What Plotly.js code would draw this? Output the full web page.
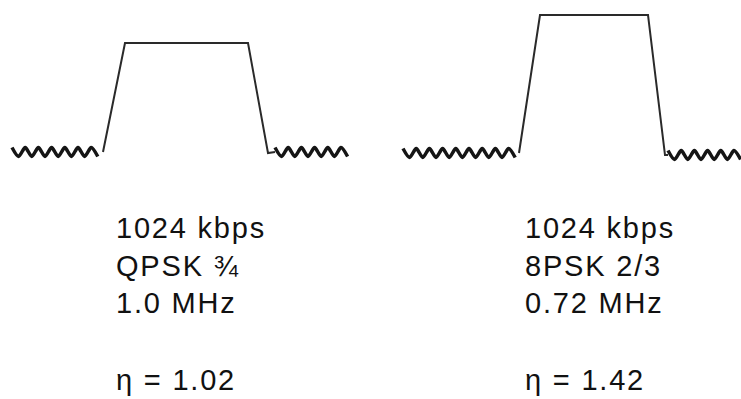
<!DOCTYPE html>
<html>
<head>
<meta charset="utf-8">
<script src="https://cdn.plot.ly/plotly-3.0.1.min.js"></script>
<style>
  html, body { margin: 0; padding: 0; background: #fff; }
  #chart { width: 741px; height: 399px; }
  #chart .annotation-text { letter-spacing: 1.8px; }
</style>
</head>
<body>
<div id="chart"></div>
<script>
// ---- data ----
const rateLabels = ['1024 kbps', '1024 kbps'];
const modLabels  = ['QPSK ¾', '8PSK 2/3'];
const bwLabels   = ['1.0 MHz', '0.72 MHz'];
const etaLabels  = ['η = 1.02', 'η = 1.42'];

// trapezoid (occupied band) outline of each carrier
const band1X = [103, 125, 248, 268, 275];
const band1Y = [152, 43, 43, 153, 152];
const band2X = [519, 540, 648, 665, 668];
const band2Y = [153, 15, 15, 155, 155];

// noise-floor squiggles: start, end, level
const noiseStart = [12, 275, 403, 668];
const noiseEnd   = [103, 350, 519, 745];
const noiseLevel = [152, 152, 153, 155];
const noiseSwing = [-4.5, 4.5];      // up / down excursion of the squiggle
const noiseHalfPeriod = 6.6;

// text anchor positions
const textX = [114, 523];

// ---- build traces ----
const ink = '#151515';
const traces = [];
for (let i = 0; i < noiseStart.length; i++) {
  const xs = [], ys = [];
  let k = 0;
  for (let x = noiseStart[i]; x <= noiseEnd[i]; x += noiseHalfPeriod, k++) {
    xs.push(x);
    ys.push(noiseLevel[i] + noiseSwing[k % 2]);
  }
  traces.push({x: xs, y: ys, mode: 'lines', line: {color: ink, width: 3.5, shape: 'spline', smoothing: 0.8}, hoverinfo: 'skip'});
}
[[band1X, band1Y], [band2X, band2Y]].forEach(([bx, by]) => {
  traces.push({x: bx, y: by, mode: 'lines', line: {color: '#2a2a2a', width: 2}, hoverinfo: 'skip'});
});

const font = {family: 'Liberation Sans, Arial, sans-serif', size: 29, color: '#111'};
const annotations = [];
for (let i = 0; i < 2; i++) {
  annotations.push({
    x: textX[i], y: 210, xref: 'x', yref: 'y', xanchor: 'left', yanchor: 'top',
    text: rateLabels[i] + '<br>' + modLabels[i] + '<br>' + bwLabels[i],
    showarrow: false, align: 'left', font: font
  });
  annotations.push({
    x: textX[i], y: 362, xref: 'x', yref: 'y', xanchor: 'left', yanchor: 'top',
    text: etaLabels[i], showarrow: false, align: 'left', font: font
  });
}

const layout = {
  width: 741, height: 399,
  margin: {l: 0, r: 0, t: 0, b: 0},
  paper_bgcolor: '#fff', plot_bgcolor: '#fff',
  showlegend: false,
  xaxis: {range: [0, 741], visible: false, fixedrange: true},
  yaxis: {range: [399, 0], visible: false, fixedrange: true},
  annotations: annotations
};
Plotly.newPlot('chart', traces, layout, {staticPlot: true, displayModeBar: false});
</script>
</body>
</html>
